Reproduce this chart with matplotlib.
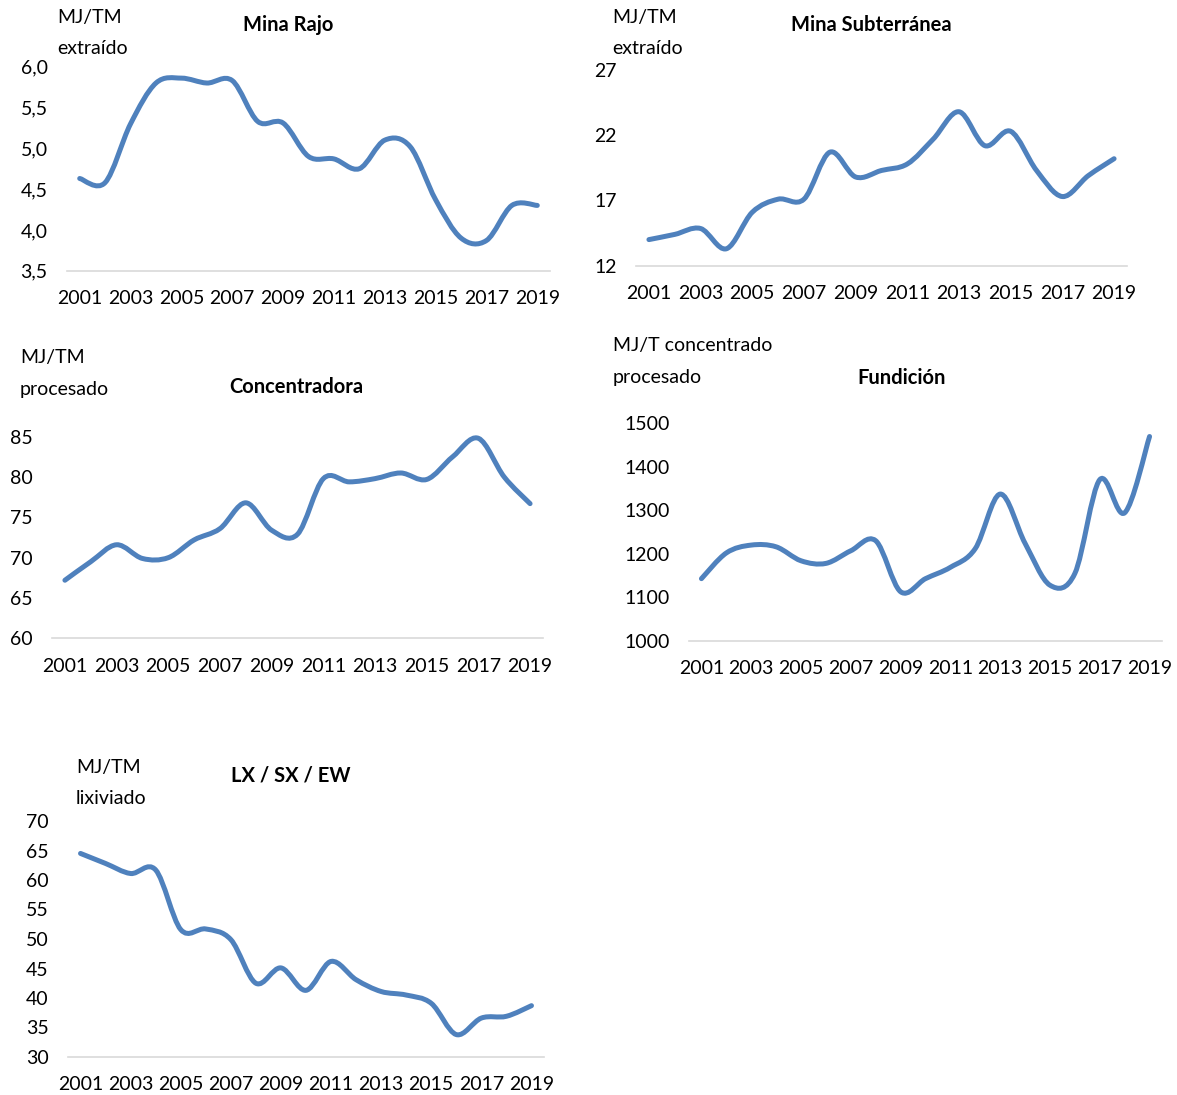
import matplotlib
matplotlib.use('Agg')
import matplotlib.pyplot as plt
from matplotlib.path import Path
from matplotlib.patches import PathPatch
import numpy as np

plt.rcParams['font.family'] = ['Lato', 'DejaVu Sans']

# Data
years = list(range(2001, 2020))
mina_rajo = [4.63, 4.58, 5.30, 5.80, 5.86, 5.80, 5.83, 5.33, 5.31, 4.90,
             4.87, 4.75, 5.10, 5.02, 4.37, 3.90, 3.87, 4.30, 4.30]
mina_sub = [14.0, 14.4, 14.85, 13.3, 16.1, 17.1, 17.1, 20.7, 18.8, 19.3,
            19.8, 21.7, 23.8, 21.2, 22.3, 19.3, 17.3, 18.9, 20.2]
concentradora = [67.2, 69.5, 71.6, 69.9, 70.0, 72.2, 73.6, 76.8, 73.4, 72.9,
                 79.8, 79.4, 79.8, 80.5, 79.7, 82.5, 84.8, 80.0, 76.7]
fundicion = [1143, 1202, 1220, 1216, 1184, 1178, 1207, 1230, 1113, 1143,
             1169, 1212, 1337, 1224, 1128, 1155, 1370, 1294, 1469]
lixiviacion = [64.5, 62.8, 61.1, 61.7, 51.6, 51.7, 49.9, 42.5, 45.1, 41.3,
               46.2, 43.1, 41.1, 40.5, 39.1, 33.8, 36.6, 36.9, 38.7]

W, H = 1177, 1095
fig = plt.figure(figsize=(W / 100, H / 100), dpi=100)

LINE_COLOR = '#4F81BD'
FS = 14        # ticks and unit labels
FS_TITLE = 14.5


def smooth_path(x, y):
    # Excel-style smoothed line: Bezier segments through every data point
    pts = np.column_stack([x, y]).astype(float)
    n = len(pts)
    verts = [pts[0]]
    codes = [Path.MOVETO]
    for i in range(n - 1):
        p0 = pts[max(i - 1, 0)]
        p1 = pts[i]
        p2 = pts[i + 1]
        p3 = pts[min(i + 2, n - 1)]
        verts += [p1 + (p2 - p0) / 6, p2 - (p3 - p1) / 6, p2]
        codes += [Path.CURVE4] * 3
    return Path(verts, codes)


def fx(px):
    return px / W


def fy(py):
    return 1 - py / H


def panel(values, box, ylim, yticks, fmt, title, title_xy, unit, unit_xy):
    x0, x1, ytop, ybase = box
    ax = fig.add_axes([fx(x0), fy(ybase), (x1 - x0) / W, (ybase - ytop) / H])
    patch = PathPatch(smooth_path(years, values), facecolor='none',
                      edgecolor=LINE_COLOR, lw=3.6, capstyle='round',
                      joinstyle='round', clip_on=False)
    ax.add_patch(patch)
    ax.set_xlim(2000.5, 2019.5)
    ax.set_ylim(*ylim)
    ax.set_xticks(years[::2])
    ax.set_xticklabels([str(y) for y in years[::2]], fontsize=FS)
    ax.set_yticks(yticks)
    ax.set_yticklabels([fmt(v) for v in yticks], fontsize=FS)
    ax.tick_params(axis='both', length=0, colors='black')
    ax.tick_params(axis='x', pad=14)
    ax.tick_params(axis='y', pad=14)
    for s in ['top', 'right', 'left']:
        ax.spines[s].set_visible(False)
    ax.spines['bottom'].set_color('#d9d9d9')
    ax.spines['bottom'].set_linewidth(1.2)
    ax.patch.set_alpha(0)
    fig.text(fx(title_xy[0]), fy(title_xy[1]), title, ha='center', va='center',
             fontsize=FS_TITLE, fontweight='bold')
    fig.text(fx(unit_xy[0]), fy(unit_xy[1]), unit[0], ha='left', va='center',
             fontsize=FS)
    fig.text(fx(unit_xy[0]), fy(unit_xy[1] + 31), unit[1], ha='left', va='center',
             fontsize=FS)
    return ax


comma1 = lambda v: f'{v:.1f}'.replace('.', ',')
integer = lambda v: f'{v:.0f}'

panel(mina_rajo, (67, 550, 66.7, 270.7), (3.5, 6.0), np.arange(3.5, 6.01, 0.5),
      comma1, 'Mina Rajo', (288, 25), ('MJ/TM', 'extraído'), (57, 17))
panel(mina_sub, (636, 1127, 70, 265.7), (12, 27), [12, 17, 22, 27],
      integer, 'Mina Subterránea', (871, 25), ('MJ/TM', 'extraído'), (612, 17))
panel(concentradora, (52, 543, 436.7, 638.3), (60, 85), list(range(60, 86, 5)),
      integer, 'Concentradora', (296, 387), ('MJ/TM', 'procesado'), (20, 358))
panel(fundicion, (689, 1162, 423, 641), (1000, 1500), list(range(1000, 1501, 100)),
      integer, 'Fundición', (902, 378), ('MJ/T concentrado', 'procesado'), (613, 346))
panel(lixiviacion, (68, 544, 821, 1057), (30, 70), list(range(30, 71, 5)),
      integer, 'LX / SX / EW', (291, 775), ('MJ/TM', 'lixiviado'), (76, 767))

fig.savefig('out.png', dpi=100)
